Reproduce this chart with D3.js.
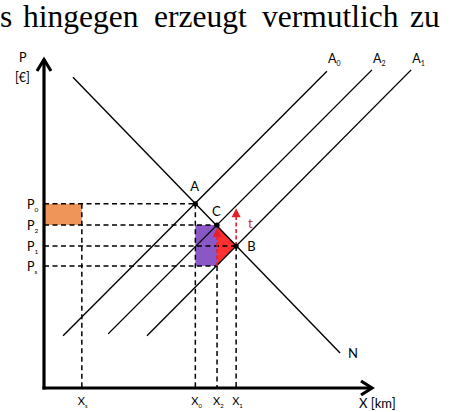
<!DOCTYPE html>
<html><head><meta charset="utf-8">
<script src="https://cdn.jsdelivr.net/npm/d3@7"></script>
<style>html,body{margin:0;padding:0;background:#fff;}svg{display:block;}</style>
</head><body>
<script>
// ---- data (chart units: 0..100 on both axes) ----
const headingWords = ["s", "hingegen", "erzeugt", "vermutlich", "zu"];
const headingX = [0, 23, 154, 262, 410];

const priceLabels = ["0", "2", "1", "s"];          // P0, P2, P1, Ps
const priceLevels = [55.8, 49.4, 43.0, 37.0];
const qtyLabels = ["s", "0", "2", "1"];             // xs, x0, x2, x1
const qtyLevels = [11.5, 46.0, 52.6, 58.4];

// demand line N and supply lines A0, A2, A1 (start / end points)
const demandLine = [[8.8, 94.2], [90.0, 10.6]];
const supplyNames = ["0", "2", "1"];
const supplyLines = [
  [[5.8, 15.8], [86.0, 96.0]],
  [[19.5, 16.4], [99.7, 96.4]],
  [[31.3, 15.8], [111.6, 96.4]]
];
const pointNames = ["A", "C", "B"];
const arrowTopT = 54.5;   // top of tax arrow at x1
const arrowTopC = 48.5;   // top of arrow at x2

const W = 454, H = 412;
const svg = d3.select("body").append("svg").attr("width", W).attr("height", H);
const x = d3.scaleLinear().domain([0, 100]).range([44, 373]);
const y = d3.scaleLinear().domain([0, 100]).range([388, 58]);

const [P0, P2, P1, Ps] = priceLevels;
const [xs, x0, x2, x1] = qtyLevels;
const pts = [[x0, P0], [x2, P2], [x1, P1]];

// heading text
svg.selectAll("text.head").data(headingWords).join("text")
  .attr("x", (d, i) => headingX[i]).attr("y", 27)
  .attr("font-family", "Liberation Serif, Times New Roman, serif")
  .attr("font-size", 31.5).attr("fill", "#000").text(d => d);

const font = "Lato, 'Open Sans', sans-serif";

// filled areas
svg.append("rect").attr("x", x(0)).attr("y", y(P0))
  .attr("width", x(xs) - x(0)).attr("height", y(P2) - y(P0)).attr("fill", "#F0955A");
svg.append("rect").attr("x", x(x0)).attr("y", y(P2))
  .attr("width", x(x2) - x(x0)).attr("height", y(Ps) - y(P2)).attr("fill", "#8A58C6");
svg.append("path")
  .attr("d", d3.line().x(d => x(d[0])).y(d => y(d[1]))([[x2, P2], [x1, P1], [x2, Ps]]) + "Z")
  .attr("fill", "#FF3030");

// dashed guides
const dash = "5,3.5";
const hGuides = [[P0, x0], [P2, x2], [P1, x1], [Ps, x2]];
svg.selectAll("line.hg").data(hGuides).join("line")
  .attr("x1", x(0)).attr("x2", d => x(d[1])).attr("y1", d => y(d[0])).attr("y2", d => y(d[0]))
  .attr("stroke", "#000").attr("stroke-width", 1.5).attr("stroke-dasharray", dash);
const vGuides = [[xs, P0], [x0, P0], [x2, Ps], [x1, P1]];
svg.selectAll("line.vg").data(vGuides).join("line")
  .attr("x1", d => x(d[0])).attr("x2", d => x(d[0])).attr("y1", d => y(d[1])).attr("y2", y(0))
  .attr("stroke", "#000").attr("stroke-width", 1.5).attr("stroke-dasharray", dash);

// lines
const lineGen = d3.line().x(d => x(d[0])).y(d => y(d[1]));
svg.append("path").attr("d", lineGen(demandLine)).attr("stroke", "#000").attr("stroke-width", 1.4).attr("fill", "none");
svg.selectAll("path.sup").data(supplyLines).join("path").attr("class", "sup")
  .attr("d", d => lineGen(d)).attr("stroke", "#000").attr("stroke-width", 1.4).attr("fill", "none");

// red arrows
function redArrow(xv, yFrom, yTo, dashed) {
  const tip = y(yTo);
  svg.append("line").attr("x1", x(xv)).attr("x2", x(xv)).attr("y1", y(yFrom)).attr("y2", tip + 8)
    .attr("stroke", "#E3202A").attr("stroke-width", 1.6).attr("stroke-dasharray", dashed ? "4,2.5" : null);
  svg.append("path")
    .attr("d", `M${x(xv)},${tip} L${x(xv) - 4.5},${tip + 9} L${x(xv) + 4.5},${tip + 9}Z`)
    .attr("fill", "#E3202A");
}
redArrow(x1, P1, arrowTopT, true);
redArrow(x2, Ps, arrowTopC, true);
svg.append("text").attr("x", 248).attr("y", 228).attr("font-family", font).attr("font-size", 13)
  .attr("fill", "#C0392B").text("t");

// points
svg.selectAll("circle.pt").data(pts).join("circle")
  .attr("cx", d => x(d[0])).attr("cy", d => y(d[1])).attr("r", 2.6).attr("fill", "#000");
const ptOffsets = [[-5, -13], [-5, -9], [11, 5]];
svg.selectAll("text.pt").data(pts).join("text")
  .attr("x", (d, i) => x(d[0]) + ptOffsets[i][0]).attr("y", (d, i) => y(d[1]) + ptOffsets[i][1])
  .attr("font-family", font).attr("font-size", 13).attr("fill", "#000")
  .text((d, i) => pointNames[i]);

// axes
svg.append("line").attr("x1", x(0)).attr("x2", x(0)).attr("y1", y(0) + 1.5).attr("y2", y(100) + 1)
  .attr("stroke", "#000").attr("stroke-width", 3.2);
svg.append("line").attr("x1", x(0) - 1.5).attr("x2", x(100) - 1).attr("y1", y(0)).attr("y2", y(0))
  .attr("stroke", "#000").attr("stroke-width", 3.2);
svg.append("path").attr("d", `M${x(0) - 7},${y(100) + 13} L${x(0)},${y(100) + 1.5} L${x(0) + 7},${y(100) + 13}`)
  .attr("stroke", "#000").attr("stroke-width", 3.2).attr("fill", "none");
svg.append("path").attr("d", `M${x(100) - 12},${y(0) - 7} L${x(100) - 1},${y(0)} L${x(100) - 12},${y(0) + 7}`)
  .attr("stroke", "#000").attr("stroke-width", 3.2).attr("fill", "none");

// axis titles
svg.append("text").attr("x", 19).attr("y", 62).attr("font-family", font).attr("font-size", 12.5).text("P");
svg.append("text").attr("x", 15).attr("y", 82).attr("font-family", font).attr("font-size", 12.5).text("[€]");
svg.append("text").attr("x", 359).attr("y", 408).attr("font-family", font).attr("font-size", 13).text("X [km]");

// price labels
const pl = svg.selectAll("text.pl").data(priceLevels).join("text")
  .attr("x", 27).attr("y", d => y(d) + 5).attr("font-family", font).attr("font-size", 12.5).attr("fill", "#000");
pl.append("tspan").text("P");
pl.append("tspan").attr("font-size", 6.5).attr("dy", 3).text((d, i) => priceLabels[i]);

// quantity labels
const ql = svg.selectAll("text.ql").data(qtyLevels).join("text")
  .attr("x", d => x(d) - 4).attr("y", 405).attr("font-family", font).attr("font-size", 11).attr("fill", "#000");
ql.append("tspan").text("X");
ql.append("tspan").attr("font-size", 6).attr("dy", 2.5).text((d, i) => qtyLabels[i]);

// supply line labels
const sl = svg.selectAll("text.sl").data(supplyLines).join("text")
  .attr("x", d => x(d[1][0]) + 1).attr("y", 63).attr("font-family", font).attr("font-size", 12.5).attr("fill", "#000");
sl.append("tspan").text("A");
sl.append("tspan").attr("font-size", 7).attr("dy", 2.5).text((d, i) => supplyNames[i]);

// N label
svg.append("text").attr("x", x(demandLine[1][0]) + 8).attr("y", y(demandLine[1][1]) + 5)
  .attr("font-family", font).attr("font-size", 13).text("N");
</script>
</body></html>
